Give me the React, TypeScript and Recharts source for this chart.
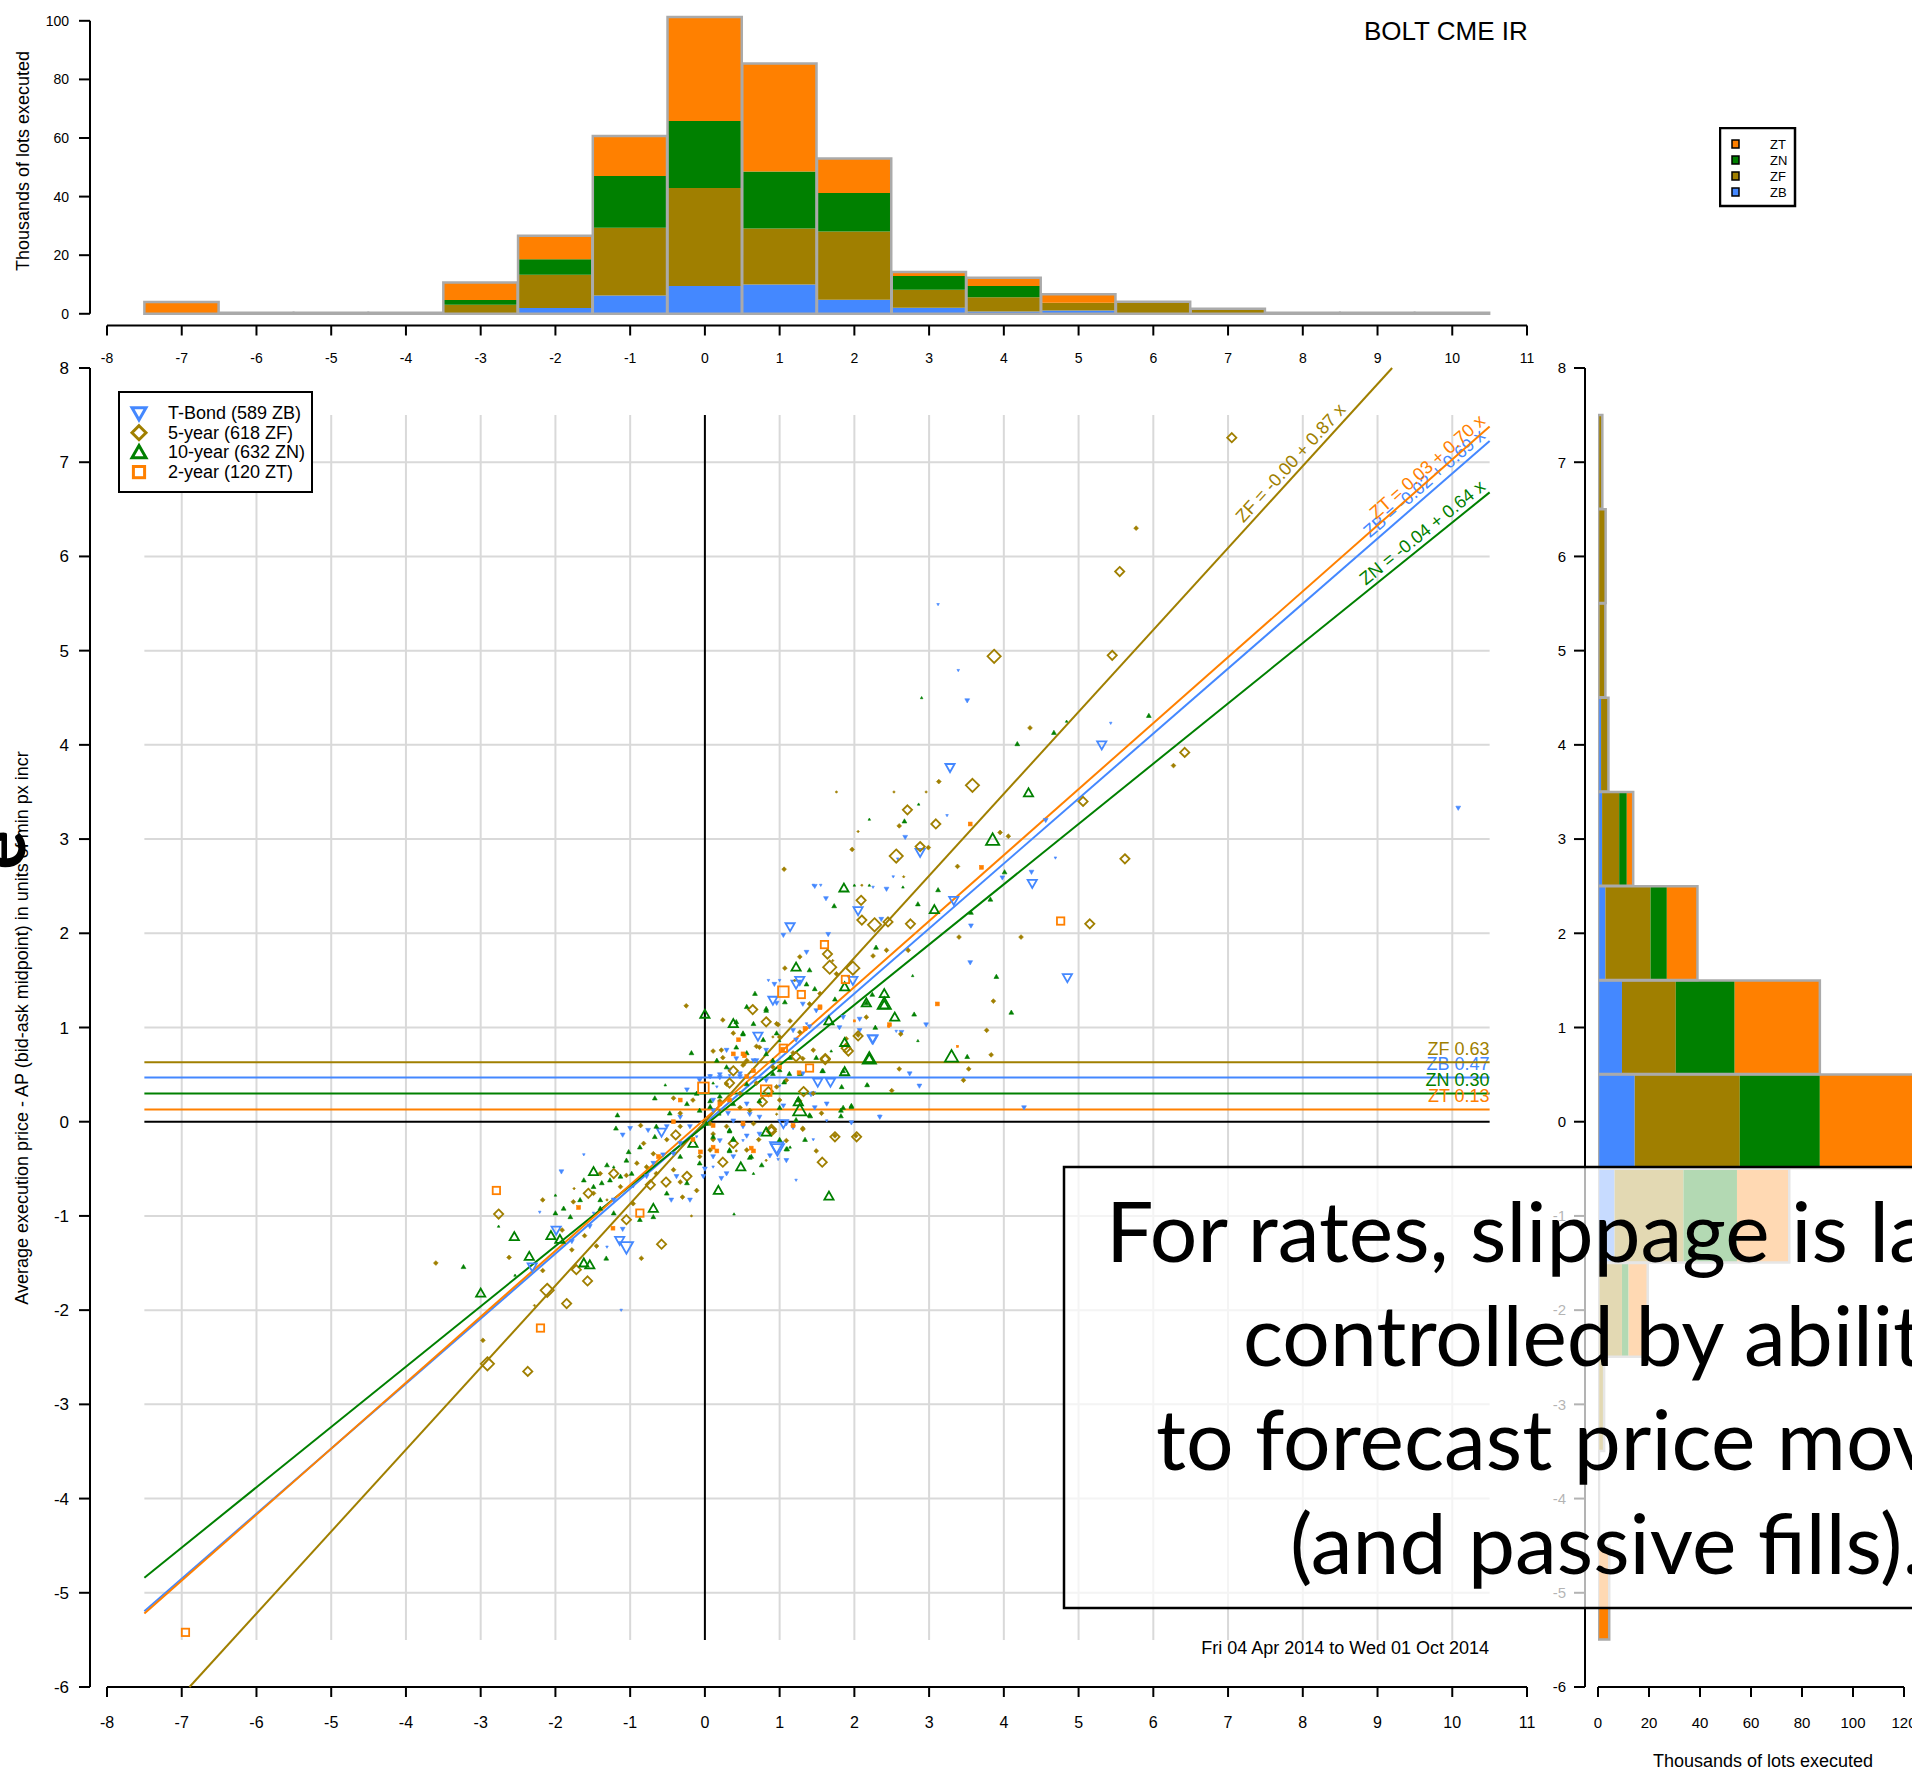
import {
  BarChart,
  Bar,
  ScatterChart,
  Scatter,
  XAxis,
  YAxis,
  ReferenceLine,
  Legend,
} from "recharts";

const W = 1912;
const H = 1772;

const BLUE = "#4488ff";
const OLIVE = "#a07f00";
const GREEN = "#008000";
const ORANGE = "#ff8000";
const GRID = "#d9d9d9";
const OUTLINE = "#aaaaaa";

// top histogram: thousands of lots per slippage bin
const histBins = [-7, -6, -5, -4, -3, -2, -1, 0, 1, 2, 3, 4, 5, 6, 7, 8, 9, 10];
const histZB = [0, 0, 0, 0, 0, 2.0, 6.2, 9.5, 10.0, 4.8, 2.1, 0.8, 1.1, 0, 0, 0, 0, 0];
const histZF = [0, 0, 0, 0.3, 3.1, 11.3, 23.2, 33.4, 19.1, 23.3, 6.1, 4.8, 2.7, 4.1, 1.7, 0, 0, 0];
const histZN = [0, 0, 0, 0, 1.6, 5.3, 17.6, 22.9, 19.5, 13.1, 4.7, 3.9, 0, 0, 0, 0, 0, 0];
const histZT = [4.0, 0, 0, 0, 6.0, 8.0, 13.7, 35.5, 36.8, 11.8, 1.4, 2.8, 2.9, 0, 0, 0, 0, 0];

// side histogram: thousands of lots per average-price bin
const sideBins = [-5, -4, -3, -2, -1, 0, 1, 2, 3, 4, 5, 6, 7];
const sideZB = [0, 0, 0, 0.5, 6.5, 14.4, 9.4, 2.9, 1.6, 1.2, 0.5, 0.3, 0.2];
const sideZF = [0, 0, 2.4, 8.9, 27.0, 41.2, 21.1, 17.7, 6.7, 2.9, 2.4, 2.7, 1.5];
const sideZN = [0, 0, 0, 2.6, 21.0, 31.4, 23.1, 6.4, 3.0, 0, 0, 0, 0];
const sideZT = [4.4, 0, 0, 7.5, 20.5, 45.0, 33.4, 12.0, 2.5, 0, 0, 0, 0];

// scatter points: [slippage bin x, avg price y, size class 1..4]
const zbPoints = [
  [-1.92, -0.53, 2], [-1.62, -0.35, 1], [-2.21, -0.96, 1], [-1.99, -1.15, 3], [-2.31, -1.54, 3],
  [-1.78, -1.27, 2], [-1.54, -1.11, 2], [-1.1, -1.14, 2], [-1.05, -1.33, 4], [-1.14, -1.26, 3],
  [-1.31, -1.33, 1], [-1.12, -2.0, 1], [-0.2, -0.83, 2], [-0.45, -0.83, 2], [-0.69, -0.44, 2],
  [-0.56, -0.35, 2], [-0.76, -0.09, 2], [-1.0, -0.07, 2], [-1.1, -0.14, 2], [-0.58, -0.11, 3],
  [-0.38, -0.58, 2], [-0.02, -0.58, 2], [0.0, -0.5, 2], [0.22, -0.6, 2], [0.11, -0.37, 2],
  [0.56, -0.15, 2], [0.96, -0.27, 4], [0.98, -0.4, 1], [1.22, -0.62, 1], [1.05, -0.02, 3],
  [1.51, 0.42, 3], [1.68, 0.42, 3], [1.45, 0.3, 2], [2.34, 0.06, 1], [2.25, 0.88, 3],
  [2.07, 0.97, 2], [0.71, 0.91, 3], [0.96, 1.26, 2], [1.31, 1.25, 2], [-0.24, 0.34, 2],
  [-0.07, 0.44, 2], [0.2, 0.5, 2], [0.47, 0.48, 2], [0.11, 0.23, 2], [0.31, 0.09, 2],
  [0.51, -0.05, 2], [0.38, -0.37, 2], [-0.33, 0.05, 2], [-0.51, -0.05, 2], [0.29, 0.76, 2],
  [1.22, 0.87, 2], [1.4, 1.01, 2], [2.56, 0.96, 1], [3.51, 4.47, 2], [5.43, 4.23, 1],
  [5.31, 4.0, 3], [3.28, 3.76, 3], [3.24, 3.25, 1], [2.68, 3.02, 2], [2.88, 2.86, 3],
  [2.58, 2.79, 1], [2.52, 2.6, 1], [4.69, 2.8, 1], [4.37, 2.65, 2], [4.38, 2.53, 3],
  [3.98, 2.59, 2], [3.33, 2.35, 3], [4.56, 3.2, 2], [1.62, 2.37, 2], [1.47, 2.5, 2],
  [2.05, 2.24, 3], [2.25, 2.49, 1], [2.43, 2.47, 2], [2.36, 2.15, 2], [1.14, 2.07, 3],
  [1.05, 1.98, 2], [1.65, 1.99, 2], [1.36, 1.8, 2], [1.22, 1.46, 3], [3.56, 2.08, 2],
  [3.55, 1.69, 2], [4.85, 1.53, 3], [2.24, 0.88, 3], [2.63, 0.95, 2], [1.98, 1.5, 3],
  [1.8, 1.0, 2], [2.07, 1.09, 2], [2.96, 1.03, 2], [2.74, 0.51, 2], [2.87, 0.38, 2],
  [2.34, 0.05, 2], [4.27, 0.15, 2], [1.42, 0.29, 2], [0.97, -0.29, 4], [1.09, -0.02, 2],
  [0.91, 1.29, 3], [0.93, 1.46, 2], [1.27, 1.5, 3], [0.42, 0.67, 2], [0.2, 0.47, 2],
  [0.11, 0.12, 2], [0.56, 0.19, 2], [0.73, -0.13, 2], [1.05, 0.17, 2], [1.63, 0.19, 2],
  [1.31, 0.51, 2], [10.08, 3.33, 2], [3.12, 5.49, 1], [3.39, 4.79, 1],
  [0.07, 0.49, 1], [0.33, 0.49, 1], [0.85, 1.5, 1], [1.0, 1.5, 1], [1.45, 2.51, 1],
  [1.55, 2.51, 1], [0.47, 0.51, 2], [0.69, 0.65, 2], [1.18, 0.97, 2], [1.36, 1.04, 1],
  [1.49, 1.18, 2], [1.85, 1.11, 2], [0.82, 0.44, 2], [1.0, 0.38, 1], [0.6, 0.08, 2],
  [0.38, 0.01, 2], [0.2, -0.2, 2], [0.51, -0.2, 1], [0.87, -0.36, 2], [1.18, -0.06, 2],
  [1.63, 0.01, 1], [1.96, -0.01, 2], [1.47, 0.15, 2], [0.07, 0.48, 2], [0.16, 0.37, 1],
  [0.33, 0.55, 2], [0.65, 0.65, 2], [0.82, 0.76, 2], [-0.2, -0.05, 2], [-0.11, -0.16, 1],
  [-0.33, -0.23, 2], [-0.42, -0.34, 2], [0.11, -0.48, 1], [0.29, -0.55, 2], [-0.78, -0.58, 2],
  [-0.96, -0.69, 1], [-1.22, -0.83, 2], [-1.49, -0.97, 1], [0.73, 0.05, 2], [1.45, -0.19, 1],
  [1.09, -0.41, 2],
];

const zfPoints = [
  [-3.6, -1.5, 2], [-2.76, -0.98, 3], [-2.62, -1.44, 2], [-2.17, -1.58, 2], [-2.11, -1.79, 4],
  [-1.72, -1.57, 3], [-1.57, -1.69, 3], [-1.85, -1.93, 3], [-2.97, -2.32, 2], [-2.91, -2.57, 4],
  [-2.37, -2.65, 3], [-2.28, -1.95, 1], [-1.05, -1.04, 3], [-0.58, -1.3, 3], [-0.85, -1.45, 2],
  [-1.45, -1.32, 2], [-1.78, -1.36, 2], [-1.61, -1.21, 2], [1.57, -0.43, 3], [1.74, -0.15, 2],
  [2.02, -0.15, 2], [2.05, 0.92, 2], [1.89, 0.78, 3], [1.61, 0.66, 3], [-0.25, 1.23, 2],
  [0.64, 1.19, 3], [0.24, 1.08, 2], [0.89, -0.08, 3], [0.72, -0.19, 2], [0.24, -0.43, 3],
  [-0.24, -0.58, 3], [-0.11, -0.73, 2], [-0.82, -0.23, 2], [-0.86, -0.04, 2], [-0.39, -0.14, 3],
  [1.31, -0.07, 2], [1.32, 0.32, 3], [0.85, 0.32, 3], [0.33, 0.41, 3], [0.53, 0.62, 2],
  [0.22, 0.76, 2], [0.38, 0.94, 2], [0.82, 1.06, 3], [0.98, 1.03, 2], [-0.3, -0.8, 2],
  [-0.18, -1.0, 1], [-0.52, -0.64, 3], [-0.65, -0.55, 2], [-0.78, -0.48, 2], [-1.05, -0.57, 2],
  [-1.22, -0.55, 3], [-1.4, -0.55, 2], [-1.56, -0.76, 3], [-1.76, -0.85, 2], [-1.91, -1.15, 2],
  [-2.17, -0.83, 2], [-1.75, -0.71, 1], [-0.73, -0.67, 3], [-0.33, -0.64, 2], [-0.42, -0.51, 2],
  [-0.07, -0.37, 2], [0.07, -0.3, 2], [0.11, -0.19, 2], [0.38, -0.23, 3], [0.29, -0.05, 2],
  [0.6, 0.12, 2], [0.96, 0.37, 2], [1.09, 0.44, 2], [1.22, 0.69, 3], [1.45, 0.76, 2],
  [1.0, 0.9, 2], [0.69, 0.8, 2], [-0.16, 0.23, 2], [-0.42, 0.25, 2], [-0.33, 0.09, 2],
  [3.87, 4.94, 4], [5.45, 4.95, 3], [3.58, 3.57, 4], [5.06, 3.4, 3], [6.42, 3.92, 3],
  [6.27, 3.78, 2], [4.35, 4.18, 2], [3.13, 3.61, 2], [2.71, 3.31, 3], [3.09, 3.16, 3],
  [2.6, 3.14, 2], [2.88, 2.92, 3], [2.99, 2.91, 2], [2.56, 2.82, 4], [2.05, 3.08, 1],
  [1.97, 2.89, 2], [1.06, 2.68, 2], [5.62, 2.79, 3], [4.06, 3.03, 2], [3.38, 2.71, 2],
  [3.95, 3.07, 2], [2.09, 2.35, 3], [2.1, 2.14, 3], [2.27, 2.09, 4], [2.45, 2.12, 3],
  [2.75, 2.1, 3], [5.15, 2.1, 3], [3.4, 1.96, 2], [4.23, 1.96, 2], [2.66, 2.6, 1],
  [1.64, 1.78, 3], [1.67, 1.64, 4], [1.98, 1.63, 4], [1.27, 1.75, 2], [1.07, 1.63, 2],
  [0.96, 1.04, 2], [1.27, 0.95, 2], [2.05, 0.91, 3], [2.62, 0.93, 2], [1.92, 0.75, 3],
  [3.77, 0.97, 2], [3.86, 1.28, 2], [3.83, 0.71, 2], [3.53, 0.56, 2], [3.46, 0.44, 2],
  [2.5, 0.33, 2], [2.03, -0.16, 3], [1.74, -0.16, 3], [1.61, 0.67, 3], [1.31, 0.67, 2],
  [0.77, 0.21, 3], [0.89, -0.1, 3], [1.56, 0.09, 2], [1.31, -0.08, 2], [0.51, 0.6, 2],
  [0.38, 0.54, 3], [0.29, 0.4, 2], [2.43, 1.82, 2], [2.72, 1.82, 2], [2.25, 1.76, 2],
  [2.16, 1.11, 2], [1.89, 0.88, 2], [2.6, 0.56, 2], [7.05, 7.26, 3], [5.77, 6.3, 2],
  [5.55, 5.84, 3], [1.76, 3.5, 1], [2.53, 3.5, 1], [2.96, 3.5, 1], [1.2, 1.5, 1],
  [2.1, 2.51, 1], [0.11, 0.75, 2], [0.24, 0.68, 2], [0.56, 0.65, 2], [0.73, 0.79, 2],
  [0.91, 0.9, 1], [1.14, 1.07, 2], [1.4, 1.25, 2], [1.54, 1.36, 2], [1.76, 1.57, 2],
  [1.71, 1.71, 1], [0.2, 0.22, 2], [0.47, 0.15, 2], [0.65, -0.02, 2], [0.96, 0.08, 1],
  [1.27, 0.22, 2], [1.09, -0.2, 2], [1.49, -0.31, 2], [0.42, -0.31, 1], [0.11, -0.13, 2],
  [-0.33, -0.05, 2], [-0.51, -0.19, 2], [-0.69, -0.34, 2], [-0.91, -0.44, 2], [-1.13, -0.69, 2],
  [-1.31, -0.83, 1], [-1.49, -0.76, 2], [-0.96, -0.87, 2], [0.07, -0.02, 2], [0.2, 0.12, 1],
  [0.47, 0.3, 2], [0.69, 0.41, 2], [0.91, 0.58, 2], [1.18, 0.73, 2], [0.56, -0.3, 2],
  [0.82, -0.41, 1], [1.0, 0.23, 2], [1.45, 0.3, 2],
];

const znPoints = [
  [-3.23, -1.54, 2], [-3.0, -1.82, 3], [-2.76, -1.11, 1], [-2.55, -1.22, 3], [-2.35, -1.43, 3],
  [-2.54, -1.63, 1], [-2.06, -1.21, 3], [-1.94, -1.25, 3], [-1.62, -1.5, 3], [-1.54, -1.52, 3],
  [-1.32, -1.45, 2], [-1.31, -0.46, 2], [-1.49, -0.53, 3], [-1.62, -0.62, 2], [-1.38, -0.65, 2],
  [-1.27, -0.62, 2], [-1.13, -0.58, 2], [-0.98, -0.55, 2], [-1.4, -0.83, 2], [-1.4, -0.92, 2],
  [-1.22, -0.97, 2], [-0.87, -1.04, 2], [-0.69, -1.01, 2], [-0.69, -0.92, 3], [-1.89, -0.92, 2],
  [-2.0, -0.78, 1], [-2.0, -0.97, 2], [0.18, -0.73, 3], [0.39, -0.98, 1], [1.66, -0.79, 3],
  [0.48, -0.48, 3], [0.76, -0.46, 2], [1.09, -0.29, 2], [0.82, -0.11, 3], [1.27, 0.12, 4],
  [1.24, 0.23, 2], [1.4, 0.07, 2], [1.82, 0.12, 2], [1.96, 0.17, 2], [1.87, 0.53, 3],
  [2.2, 0.67, 4], [2.18, 0.39, 1], [2.4, 1.25, 4], [2.16, 1.26, 3], [1.57, 0.54, 2],
  [-0.18, 0.73, 2], [0.0, 1.14, 3], [-0.53, 0.39, 1], [-0.67, 0.25, 2], [-1.17, 0.07, 2],
  [-1.19, -0.07, 2], [-1.02, -0.32, 2], [-0.67, -0.16, 2], [-0.16, -0.23, 3], [-0.24, 0.19, 2],
  [-0.07, 0.12, 2], [0.07, 0.16, 2], [0.2, 0.27, 2], [0.38, 0.19, 2], [0.38, 1.04, 3],
  [0.51, 0.94, 2], [0.78, 0.87, 2], [0.96, 0.94, 2], [0.82, 1.2, 2], [0.56, 1.22, 2],
  [0.38, -0.19, 2], [0.11, -0.16, 2], [-0.07, -0.44, 2], [-0.33, -0.37, 2], [0.62, -0.37, 2],
  [0.33, -0.09, 2], [1.13, 0.51, 2], [1.0, 0.55, 2], [0.91, 0.65, 2], [2.9, 4.5, 1],
  [4.67, 4.13, 2], [4.18, 4.01, 2], [4.84, 4.25, 1], [5.94, 4.31, 2], [4.33, 3.49, 3],
  [3.85, 2.99, 4], [2.67, 3.19, 2], [2.86, 3.37, 1], [2.2, 3.21, 1], [4.01, 2.65, 2],
  [3.12, 2.46, 2], [2.85, 2.31, 2], [3.07, 2.25, 3], [3.82, 2.36, 2], [3.56, 2.22, 2],
  [2.65, 2.49, 1], [1.73, 2.29, 2], [1.86, 2.48, 3], [2.29, 1.85, 2], [2.78, 1.55, 1],
  [3.9, 1.54, 2], [4.1, 1.16, 2], [2.4, 1.36, 3], [2.4, 1.24, 3], [2.24, 1.35, 2],
  [2.16, 1.26, 2], [2.54, 1.11, 3], [2.8, 1.14, 2], [2.85, 0.86, 1], [2.2, 0.67, 3],
  [3.3, 0.69, 4], [3.51, 0.69, 2], [1.87, 0.84, 3], [1.22, 1.64, 3], [1.4, 1.61, 2],
  [1.36, 1.46, 2], [1.47, 1.41, 2], [1.87, 1.43, 3], [1.74, 1.3, 2], [1.66, 1.07, 3],
  [2.28, 1.0, 2], [1.85, 0.54, 2], [2.17, 0.39, 2], [1.83, 0.37, 2], [1.96, 0.16, 2],
  [1.07, 1.27, 2], [0.82, 1.18, 2], [0.67, 1.36, 2], [0.42, 1.06, 2], [0.51, 0.93, 2],
  [1.58, 0.54, 2], [1.25, 0.21, 3], [1.06, 0.42, 2], [1.41, 0.06, 2], [1.82, 0.06, 2],
  [1.34, -0.19, 2], [1.1, -0.29, 2], [0.38, -0.18, 2], [0.33, -0.1, 2], [0.07, 0.22, 2],
  [0.91, 0.51, 2], [2.0, 2.51, 1], [2.2, 2.51, 1], [0.16, 0.65, 2], [0.42, 0.79, 2],
  [0.65, 1.04, 2], [0.82, 0.72, 2], [1.0, 0.86, 1], [1.14, 0.68, 2], [1.27, 0.51, 2],
  [1.49, 0.68, 2], [1.69, 0.75, 1], [0.56, 0.4, 2], [0.73, 0.22, 2], [1.0, 0.15, 2],
  [0.2, 0.08, 1], [0.02, -0.02, 2], [0.33, -0.31, 2], [0.6, -0.38, 2], [1.14, -0.27, 1],
  [1.85, 0.15, 2], [-0.47, 0.09, 2], [-0.65, -0.05, 2], [-0.87, -0.27, 2], [-1.05, -0.41, 2],
  [-1.22, -0.48, 1], [-1.49, -0.69, 2], [-1.67, -0.83, 2], [-1.8, -1.01, 2], [-0.11, 0.3, 2],
  [0.11, 0.41, 1], [0.29, 0.58, 2], [0.56, 0.73, 2], [0.33, -0.3, 2], [0.65, -0.55, 1],
  [1.0, -0.19, 2], [1.22, 0.02, 2], [-0.24, -0.65, 2], [-0.51, -0.76, 2],
];

const ztPoints = [
  [-2.79, -0.73, 3], [-2.2, -2.19, 3], [-1.69, -0.91, 2], [-1.23, -1.13, 2], [-0.87, -0.97, 3],
  [-0.62, -0.37, 2], [-0.42, 0.0, 2], [-0.02, 0.36, 4], [-0.06, -0.32, 2], [0.11, -0.27, 2],
  [0.62, -0.28, 2], [0.45, 0.87, 2], [0.51, 0.72, 2], [0.82, 0.33, 4], [1.05, 0.78, 3],
  [1.26, 0.52, 2], [1.4, 0.57, 3], [1.54, 1.22, 2], [1.34, 0.99, 2], [2.47, 1.03, 2],
  [1.18, -0.04, 2], [3.55, 3.16, 2], [3.7, 2.7, 2], [4.76, 2.13, 3], [3.11, 1.25, 2],
  [1.6, 1.88, 3], [1.05, 1.38, 4], [1.29, 1.35, 3], [1.88, 1.51, 3], [1.54, 1.21, 2],
  [0.53, 0.7, 2], [1.04, 0.77, 2], [2.46, 1.01, 1], [3.38, 0.8, 1], [0.65, -0.31, 2],
  [0.11, -0.04, 2], [2.0, 1.07, 1], [-6.95, -5.42, 3], [0.38, 0.72, 2], [0.65, 0.54, 2],
  [1.0, 0.58, 2], [0.2, 0.19, 2], [0.51, -0.02, 2], [0.16, -0.31, 2], [-0.33, 0.23, 2],
  [0.33, 0.23, 2], [-0.16, -0.19, 2], [0.56, 0.48, 2],
];

const seriesKeys = ["ZB", "ZF", "ZN", "ZT"];
const seriesNames = ["T-Bond (589 ZB)", "5-year (618 ZF)", "10-year (632 ZN)", "2-year (120 ZT)"];
const seriesColors = [BLUE, OLIVE, GREEN, ORANGE];
const seriesShapes = ["down", "diamond", "up", "square"];
const seriesPoints = [zbPoints, zfPoints, znPoints, ztPoints];

// regression fits and mean slippage per contract
const fitIntercepts = [-0.02, -0.0, -0.04, 0.03];
const fitSlopes = [0.69, 0.87, 0.64, 0.7];
const fitLabels = ["ZB = -0.02 + 0.69 x", "ZF = -0.00 + 0.87 x", "ZN = -0.04 + 0.64 x", "ZT = 0.03 + 0.70 x"];
const fitLabelBack = [0, 62, 0, 0];
const meanValues = [0.47, 0.63, 0.3, 0.13];
const meanLabels = ["ZB 0.47", "ZF 0.63", "ZN 0.30", "ZT 0.13"];

const xTicks = [-8, -7, -6, -5, -4, -3, -2, -1, 0, 1, 2, 3, 4, 5, 6, 7, 8, 9, 10, 11];
const yTicks = [-6, -5, -4, -3, -2, -1, 0, 1, 2, 3, 4, 5, 6, 7, 8];
const gridX = [-7, -6, -5, -4, -3, -2, -1, 1, 2, 3, 4, 5, 6, 7, 8, 9, 10];
const gridY = [-5, -4, -3, -2, -1, 1, 2, 3, 4, 5, 6, 7];
const histYTicks = [0, 20, 40, 60, 80, 100];
const sideXTicks = [0, 20, 40, 60, 80, 100, 120];
const histKeyLabels = ["ZT", "ZN", "ZF", "ZB"];
const histKeyColors = [ORANGE, GREEN, OLIVE, BLUE];

const histData = histBins.map((x, i) => ({
  x,
  ZB: histZB[i],
  ZF: histZF[i],
  ZN: histZN[i],
  ZT: histZT[i],
  total: histZB[i] + histZF[i] + histZN[i] + histZT[i],
}));

const sideData = sideBins.map((y, i) => ({
  y,
  ZB: sideZB[i],
  ZF: sideZF[i],
  ZN: sideZN[i],
  ZT: sideZT[i],
  total: sideZB[i] + sideZF[i] + sideZN[i] + sideZT[i],
}));

// pixel layout
const PX_X = 74.74; // px per slippage unit
const PX_Y = 94.2; // px per price unit
const X_PAD = 17; // gap between y axis and x = -8
const SIDE_PAD = 13;
const SIDE_PX = 2.55; // px per thousand lots

const RADIUS = [0, 1.3, 2.4, 4.6, 6.6];

function marker(kind: string, color: string, cx: number, cy: number, r: number, open: boolean, sw: number) {
  const style = open
    ? { fill: "none", stroke: color, strokeWidth: sw }
    : { fill: color, stroke: color, strokeWidth: 0.6 };
  if (kind === "down")
    return <polygon points={`${cx - r},${cy - r * 0.75} ${cx + r},${cy - r * 0.75} ${cx},${cy + r}`} {...style} />;
  if (kind === "up")
    return <polygon points={`${cx - r},${cy + r * 0.75} ${cx + r},${cy + r * 0.75} ${cx},${cy - r}`} {...style} />;
  if (kind === "diamond")
    return <polygon points={`${cx},${cy - r} ${cx + r},${cy} ${cx},${cy + r} ${cx - r},${cy}`} {...style} />;
  const h = r * 0.8;
  return <rect x={cx - h} y={cy - h} width={2 * h} height={2 * h} {...style} />;
}

const makeShape = (kind: string, color: string) => (props: any) => {
  const { cx, cy, payload } = props;
  if (cx == null || cy == null) return <g />;
  const s = payload.s;
  return marker(kind, color, cx, cy, RADIUS[s], s >= 3, 1.8);
};

const ScatterKey = () => (
  <svg width={196} height={103} style={{ display: "block" }}>
    <rect x={1} y={1} width={193} height={100} fill="#fff" stroke="#000" strokeWidth={2} />
    {seriesNames.map((name, i) => (
      <g key={name}>
        {marker(seriesShapes[i], seriesColors[i], 21, 22 + i * 19.7, 7, true, 3)}
        <text x={50} y={28 + i * 19.7} fontSize={18} fill="#000">
          {name}
        </text>
      </g>
    ))}
  </svg>
);

const HistKey = () => (
  <svg width={78} height={81} style={{ display: "block" }}>
    <rect x={1} y={1} width={75} height={78} fill="#fff" stroke="#000" strokeWidth={2.5} />
    {histKeyLabels.map((name, i) => (
      <g key={name}>
        <rect x={13} y={13 + i * 16} width={7} height={8} fill={histKeyColors[i]} stroke="#000" strokeWidth={1.5} />
        <text x={51} y={22 + i * 16} fontSize={13} fill="#000">
          {name}
        </text>
      </g>
    ))}
  </svg>
);

function fitSegment(i: number) {
  const a = fitIntercepts[i];
  const b = fitSlopes[i];
  let x0 = -7.5;
  let x1 = 10.5;
  if (a + b * x0 < -6) x0 = (-6 - a) / b;
  if (a + b * x1 > 8) x1 = (8 - a) / b;
  return [
    { x: x0, y: a + b * x0 },
    { x: x1, y: a + b * x1 },
  ];
}

export default function App() {
  return (
    <div
      style={{
        position: "absolute",
        left: 0,
        top: 0,
        width: W,
        height: H,
        overflow: "hidden",
        background: "#fff",
        fontFamily: '"Liberation Sans", Arial, sans-serif',
      }}
    >
      {/* top histogram */}
      <div style={{ position: "absolute", left: 0, top: 0 }}>
        <BarChart
          width={W}
          height={H}
          data={histData}
          margin={{ top: 17, right: W - 1527, bottom: H - 325.5 - 45, left: 30 }}
          barGap={0}
          barCategoryGap={0}
        >
          <XAxis
            type="number"
            dataKey="x"
            domain={[-8, 11]}
            ticks={xTicks}
            interval={0}
            padding={{ left: X_PAD, right: 0 }}
            allowDataOverflow
            height={45}
            axisLine={false}
            tickLine={{ stroke: "#000", strokeWidth: 2 }}
            tickSize={10}
            tickMargin={18}
            tick={{ fontSize: 14, fill: "#000" }}
          />
          <XAxis xAxisId="o" type="number" dataKey="x" domain={[-8, 11]} padding={{ left: X_PAD, right: 0 }} allowDataOverflow hide />
          <YAxis
            type="number"
            domain={[-4, 100]}
            ticks={histYTicks}
            interval={0}
            width={60}
            axisLine={false}
            tickLine={{ stroke: "#000", strokeWidth: 2 }}
            tickSize={11}
            tickMargin={10}
            tick={{ fontSize: 14, fill: "#000" }}
          />
          <Bar dataKey="ZB" stackId="h" fill={BLUE} barSize={PX_X - 0.5} isAnimationActive={false} />
          <Bar dataKey="ZF" stackId="h" fill={OLIVE} barSize={PX_X - 0.5} isAnimationActive={false} />
          <Bar dataKey="ZN" stackId="h" fill={GREEN} barSize={PX_X - 0.5} isAnimationActive={false} />
          <Bar dataKey="ZT" stackId="h" fill={ORANGE} barSize={PX_X - 0.5} isAnimationActive={false} />
          <Bar
            xAxisId="o"
            dataKey="total"
            fill="none"
            stroke={OUTLINE}
            strokeWidth={2.5}
            minPointSize={1}
            barSize={PX_X - 0.5}
            isAnimationActive={false}
          />
          <ReferenceLine
            segment={[{ x: -8, y: -4 }, { x: 11, y: -4 }]}
            stroke="#000"
            strokeWidth={2}
            ifOverflow="visible"
          />
          <ReferenceLine
            segment={[{ x: -8 - X_PAD / PX_X, y: 0 }, { x: -8 - X_PAD / PX_X, y: 100 }]}
            stroke="#000"
            strokeWidth={2}
            ifOverflow="visible"
          />
          <Legend
            content={() => <HistKey />}
            layout="horizontal"
            verticalAlign="middle"
            align="center"
            wrapperStyle={{ left: 1719, top: 127, width: 78, height: 81 }}
          />
        </BarChart>
      </div>

      {/* main scatter */}
      <div style={{ position: "absolute", left: 0, top: 0 }}>
        <ScatterChart
          width={W}
          height={H}
          margin={{ top: 368, right: W - 1527, bottom: H - 1687 - 50, left: 30 }}
        >
          <XAxis
            type="number"
            dataKey="x"
            domain={[-8, 11]}
            ticks={xTicks}
            interval={0}
            padding={{ left: X_PAD, right: 0 }}
            allowDataOverflow
            height={50}
            axisLine={false}
            tickLine={{ stroke: "#000", strokeWidth: 2 }}
            tickSize={10}
            tickMargin={20}
            tick={{ fontSize: 16, fill: "#000" }}
          />
          <YAxis
            type="number"
            dataKey="y"
            domain={[-6, 8]}
            ticks={yTicks}
            interval={0}
            allowDataOverflow
            width={60}
            axisLine={{ stroke: "#000", strokeWidth: 2 }}
            tickLine={{ stroke: "#000", strokeWidth: 2 }}
            tickSize={11}
            tickMargin={10}
            tick={{ fontSize: 17, fill: "#000" }}
          />
          {gridX.map((v) => (
            <ReferenceLine key={`gx${v}`} segment={[{ x: v, y: -5.5 }, { x: v, y: 7.5 }]} stroke={GRID} strokeWidth={2} />
          ))}
          {gridY.map((v) => (
            <ReferenceLine key={`gy${v}`} segment={[{ x: -7.5, y: v }, { x: 10.5, y: v }]} stroke={GRID} strokeWidth={2} />
          ))}
          <ReferenceLine segment={[{ x: 0, y: -5.5 }, { x: 0, y: 7.5 }]} stroke="#000" strokeWidth={2} />
          <ReferenceLine segment={[{ x: -7.5, y: 0 }, { x: 10.5, y: 0 }]} stroke="#000" strokeWidth={2} />
          <ReferenceLine
            segment={[{ x: -8, y: -6 }, { x: 11, y: -6 }]}
            stroke="#000"
            strokeWidth={2}
            ifOverflow="visible"
          />
          {meanValues.map((v, i) => (
            <ReferenceLine
              key={`m${i}`}
              segment={[{ x: -7.5, y: v }, { x: 10.5, y: v }]}
              stroke={seriesColors[i]}
              strokeWidth={2}
              label={(p: any) => (
                <text
                  x={p.viewBox.x + p.viewBox.width}
                  y={p.viewBox.y - 7}
                  textAnchor="end"
                  fontSize={18}
                  fill={seriesColors[i]}
                >
                  {meanLabels[i]}
                </text>
              )}
            />
          ))}
          {fitIntercepts.map((_, i) => (
            <ReferenceLine
              key={`f${i}`}
              segment={fitSegment(i)}
              stroke={seriesColors[i]}
              strokeWidth={2}
              ifOverflow="visible"
              label={(p: any) => {
                const vb = p.viewBox;
                const ang = (Math.atan2(vb.height, vb.width) * 180) / Math.PI;
                return (
                  <text
                    transform={`translate(${vb.x + vb.width},${vb.y}) rotate(${-ang})`}
                    x={-fitLabelBack[i]}
                    y={-5}
                    textAnchor="end"
                    fontSize={18}
                    fill={seriesColors[i]}
                  >
                    {fitLabels[i]}
                  </text>
                );
              }}
            />
          ))}
          {seriesKeys.map((k, i) => (
            <Scatter
              key={k}
              name={seriesNames[i]}
              data={seriesPoints[i].map((p) => ({ x: p[0], y: p[1], s: p[2] }))}
              dataKey="y"
              shape={makeShape(seriesShapes[i], seriesColors[i])}
              isAnimationActive={false}
            />
          ))}
          <Legend
            content={() => <ScatterKey />}
            layout="horizontal"
            verticalAlign="middle"
            align="center"
            wrapperStyle={{ left: 118, top: 391, width: 196, height: 103 }}
          />
        </ScatterChart>
      </div>

      {/* side histogram */}
      <div style={{ position: "absolute", left: 0, top: 0 }}>
        <BarChart
          width={W}
          height={H}
          data={sideData}
          layout="vertical"
          margin={{ top: 368, right: 0, bottom: H - 1687 - 50, left: 1545 }}
          barGap={0}
          barCategoryGap={0}
        >
          <XAxis
            type="number"
            domain={[0, 120 + (W - 1904) / SIDE_PX]}
            ticks={sideXTicks}
            interval={0}
            padding={{ left: SIDE_PAD, right: 0 }}
            allowDataOverflow
            height={50}
            axisLine={false}
            tickLine={{ stroke: "#000", strokeWidth: 2 }}
            tickSize={10}
            tickMargin={20}
            tick={{ fontSize: 15, fill: "#000" }}
          />
          <YAxis
            type="number"
            dataKey="y"
            domain={[-6, 8]}
            ticks={yTicks}
            interval={0}
            reversed
            allowDataOverflow
            width={40}
            axisLine={{ stroke: "#000", strokeWidth: 2 }}
            tickLine={{ stroke: "#000", strokeWidth: 2 }}
            tickSize={11}
            tickMargin={8}
            tick={{ fontSize: 15, fill: "#000" }}
          />
          <YAxis yAxisId="o" type="number" dataKey="y" domain={[-6, 8]} reversed allowDataOverflow hide />
          <Bar dataKey="ZB" stackId="s" fill={BLUE} barSize={PX_Y - 0.5} isAnimationActive={false} />
          <Bar dataKey="ZF" stackId="s" fill={OLIVE} barSize={PX_Y - 0.5} isAnimationActive={false} />
          <Bar dataKey="ZN" stackId="s" fill={GREEN} barSize={PX_Y - 0.5} isAnimationActive={false} />
          <Bar dataKey="ZT" stackId="s" fill={ORANGE} barSize={PX_Y - 0.5} isAnimationActive={false} />
          <Bar
            yAxisId="o"
            dataKey="total"
            fill="none"
            stroke={OUTLINE}
            strokeWidth={2.5}
            minPointSize={1}
            barSize={PX_Y - 0.5}
            isAnimationActive={false}
          />
          <ReferenceLine
            segment={[{ x: 0, y: -6 }, { x: 120, y: -6 }]}
            stroke="#000"
            strokeWidth={2}
            ifOverflow="visible"
          />
        </BarChart>
      </div>

      {/* titles, notes and the slide overlay */}
      <svg width={W} height={H} style={{ position: "absolute", left: 0, top: 0 }}>
        <text x={1364} y={40} fontSize={26} fill="#000">
          BOLT CME IR
        </text>
        <text transform="translate(29,161) rotate(-90)" textAnchor="middle" fontSize={18} fill="#000">
          Thousands of lots executed
        </text>
        <text transform="translate(28,1028) rotate(-90)" textAnchor="middle" fontSize={18} fill="#000">
          Average execution price - AP (bid-ask midpoint) in units of min px incr
        </text>
        <text transform="translate(25,850) rotate(-90)" textAnchor="middle" fontSize={74} fontWeight={700} fontFamily="Lato" fill="#000">
          e
        </text>
        <text x={1489} y={1654} textAnchor="end" fontSize={18} fill="#000">
          Fri 04 Apr 2014 to Wed 01 Oct 2014
        </text>
        <text x={1763} y={1767} textAnchor="middle" fontSize={18} fill="#000">
          Thousands of lots executed
        </text>
        <rect x={1064} y={1167} width={900} height={441} fill="#fff" fillOpacity={0.7} stroke="#000" strokeWidth={2.5} />
        <g fontFamily="Lato" fontSize={84} fill="#000">
          <text x={1106} y={1262}>For rates, slippage is largely</text>
          <text x={1243} y={1366}>controlled by ability</text>
          <text x={1156} y={1470}>to forecast price moves</text>
          <text x={1290} y={1574}>(and passive fills).</text>
        </g>
      </svg>
    </div>
  );
}
